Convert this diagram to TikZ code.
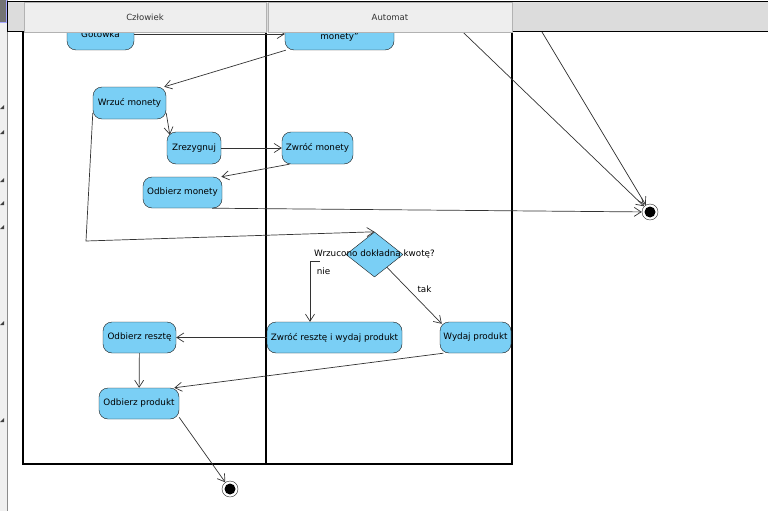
\documentclass[tikz,border=0pt]{standalone}
\usepackage{fontspec}
\setmainfont{DejaVu Sans}
\usetikzlibrary{arrows.meta,calc,shapes.geometric}
\definecolor{akcja}{RGB}{122,207,245}
\definecolor{nagl}{RGB}{238,238,238}
\definecolor{naglciemny}{RGB}{220,220,220}
\definecolor{pasek}{RGB}{240,240,240}
\begin{document}
\begin{tikzpicture}[x=1pt, y=-1pt,
	act/.style = {draw=black!90, fill=akcja, rounded corners=9pt, minimum height=32pt, inner sep=0pt, font=\fontsize{8.8}{10}\selectfont},
	dec/.style = {draw=black!90, fill=akcja, diamond, minimum width=57pt, minimum height=45pt, inner sep=0pt},
	final/.style = {circle, draw=black!85, fill=white, minimum size=16pt, inner sep=0pt, path picture={\fill[black] (path picture bounding box.center) circle (5.5pt);}},
	lbl/.style = {inner sep=0pt, font=\fontsize{8.8}{10}\selectfont},
	flow/.style = {draw=black!80, line width=0.7pt, -{Straight Barb[length=7pt,width=9pt]}},
	lane/.style = {line width=1.6pt},
	cell/.style = {draw=black!30, fill=nagl, minimum height=30pt, inner sep=0pt, text=black!80, font=\fontsize{8.5}{10}\selectfont}]
			\useasboundingbox (0,0) rectangle (768,511);
			\fill[pasek] (0,0) rectangle (7,511);
			\draw[black!45] (7.5,0) -- (7.5,511);
			\filldraw[fill=black!55, draw=blue!35, line width=1pt] (-1,-1) rectangle (6.5,23);
			\foreach \ty in {107,132,180,203,227,323,420}
				\fill[black!75] (0,\ty+2) -- (4,\ty+2) -- (4,\ty-2) -- cycle;
			\draw[lane] (266,32) -- (23,32) -- (23,464) -- (266,464);
			\draw[lane] (266,464) -- (512,464) -- (512,32);
			\draw[line width=2.2pt] (266,32) -- (266,464);
			\node[act, minimum width=67pt] (got) at (100.5,34) {Gotówka};
			\node[act, minimum width=109pt, align=center] (mon) at (339.5,34) {\mbox{}\\[2pt]monety''};
			\node[act, minimum width=73pt] (wrz) at (129.5,103) {Wrzuć monety};
			\node[act, minimum width=54pt] (zre) at (194,148) {Zrezygnuj};
			\node[act, minimum width=71pt] (zwm) at (317.5,148) {Zwróć monety};
			\node[act, minimum width=79pt, minimum height=31pt] (odm) at (182.5,192.5) {Odbierz monety};
			\node[dec] (kw) at (374.5,254.5) {};
			\node[lbl] (kwl) at (374.5,254) {Wrzucono dokładną kwotę?};
			\node[act, minimum width=135pt, minimum height=31pt] (zrw) at (334.5,337.5) {Zwróć resztę i wydaj produkt};
			\node[act, minimum width=71pt, minimum height=31pt] (wyd) at (475.5,337.5) {Wydaj produkt};
			\node[act, minimum width=73pt, minimum height=31pt] (odr) at (139.5,337.5) {Odbierz resztę};
			\node[act, minimum width=80pt, minimum height=31pt] (odp) at (139,403.5) {Odbierz produkt};
			\node[final] (fin1) at (650,212) {};
			\node[final] (fin2) at (230,489) {};
			\node[lbl] (nie) at (323.5,271) {nie};
			\node[lbl] (tak) at (424.5,289) {tak};
			\coordinate (src1) at (442,12);
			\coordinate (src2) at (530,12);
			\coordinate (zgiecie) at (86,241);
			\coordinate (niec) at (320,261);
			\coordinate (nieb) at (310,261);
			\draw[flow] (got) -- (mon);
			\draw[flow] (mon) -- (wrz.25);
			\draw[flow] (wrz.-15) -- ($(zre.north west)+(3,3)$);
			\draw[flow] (zre) -- (zwm);
			\draw[flow] (zwm.-150) -- (odm.22);
			\draw[flow] (odm.-28) -- (fin1);
			\draw[flow] (src1) -- (fin1);
			\draw[flow] (src2) -- (fin1);
			\draw[flow] (wrz.195) -- (zgiecie) -- (kw.north);
			\draw[flow] (niec) -- (nieb) -- (nieb |- zrw.north);
			\draw[flow] (kw) -- ($(wyd.north west)+(2,2)$);
			\draw[flow] (zrw) -- (odr);
			\draw[flow] (wyd.-154) -- (odp.24);
			\draw[flow] (odr) -- (odp);
			\draw[flow] (odp.-19) -- (fin2);
			\fill[naglciemny] (7,2) rectangle (768,32);
			\draw[line width=1pt] (7,32) -- (7,2) -- (768,2);
			\draw[line width=1pt] (7,32) -- (24,32);
			\draw[line width=1pt] (512,32) -- (768,32);
			\node[cell, minimum width=242pt] (hc) at (145,17) {Człowiek};
			\node[cell, minimum width=244pt] (ha) at (390,17) {Automat};
		\end{tikzpicture}
\end{document}
